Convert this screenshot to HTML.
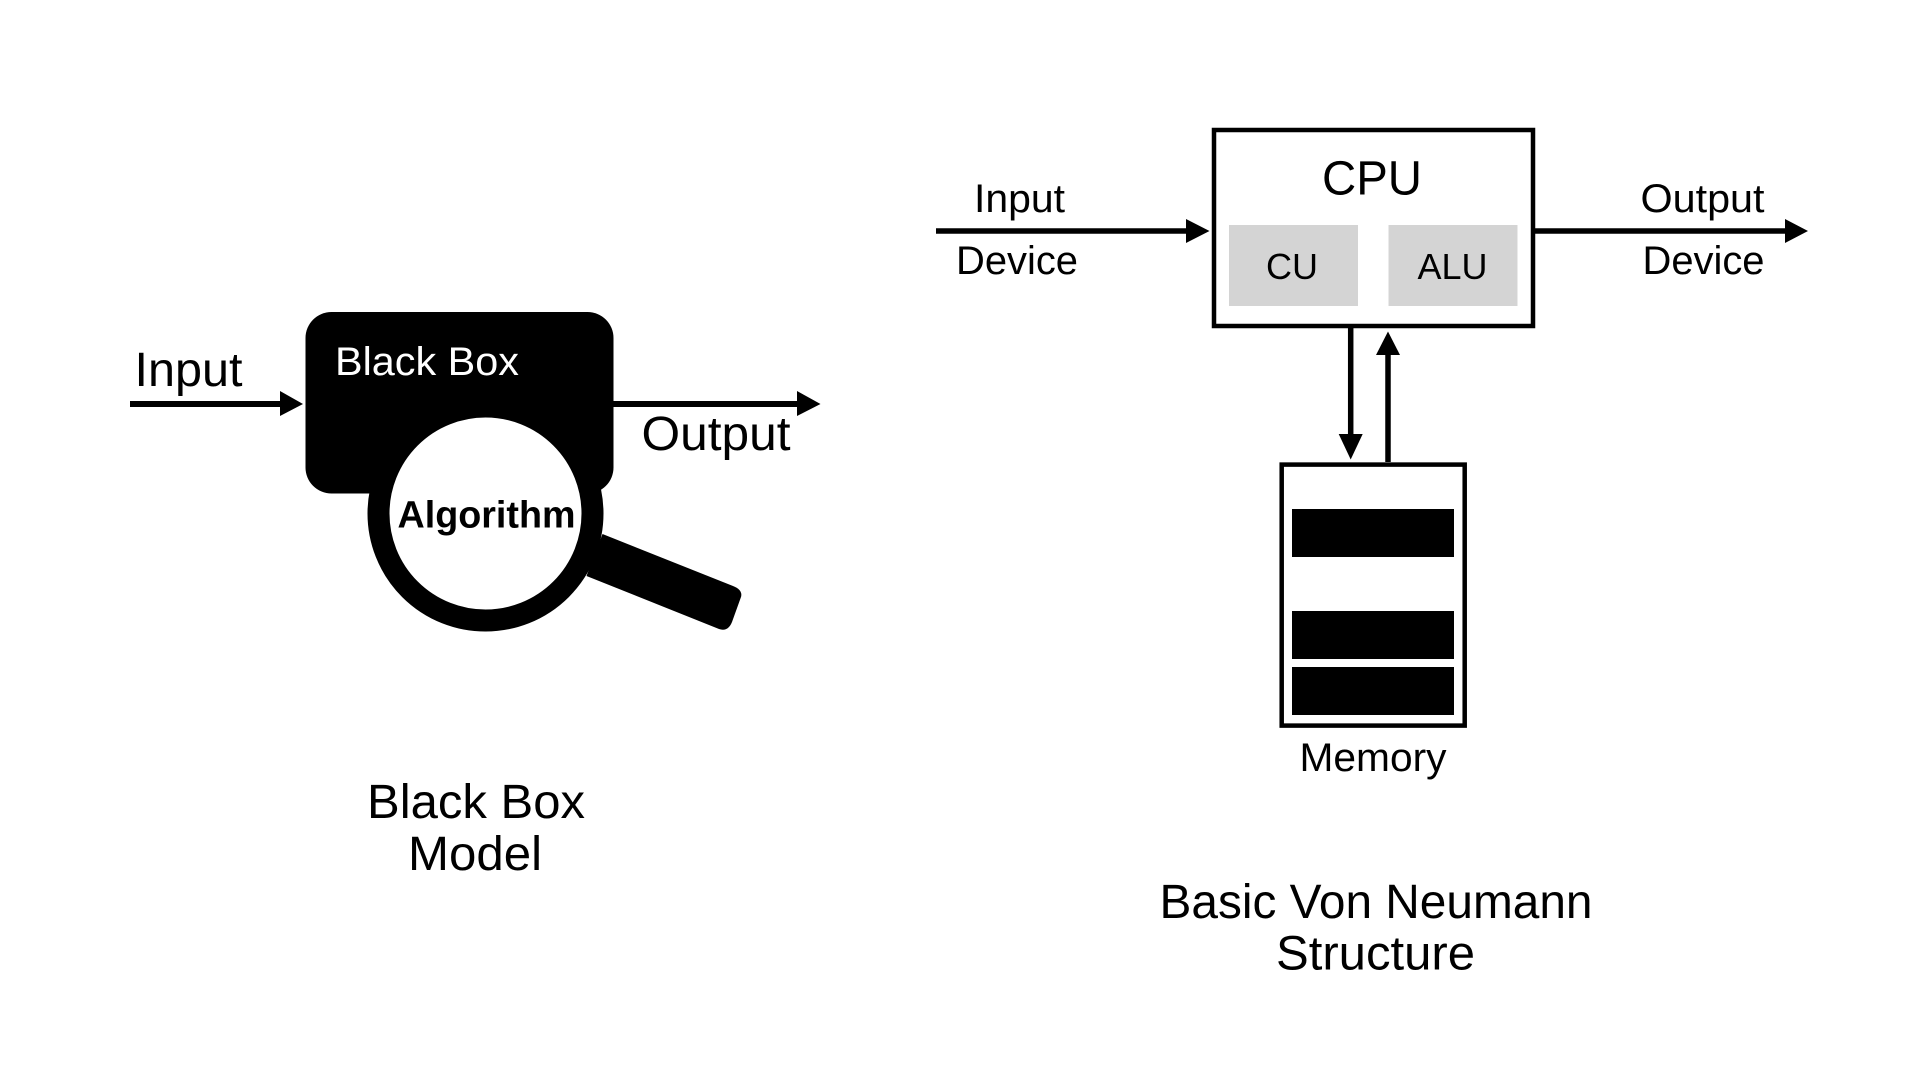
<!DOCTYPE html>
<html><head><meta charset="utf-8"><style>
html,body{margin:0;padding:0;background:#fff}
svg{display:block}
text{font-family:"Liberation Sans",sans-serif;fill:#000}
</style></head><body>
<svg width="1920" height="1080" viewBox="0 0 1920 1080" xmlns="http://www.w3.org/2000/svg">
<rect width="1920" height="1080" fill="#fff"/>
<!-- Black box -->
<rect x="305.5" y="312" width="308" height="181.5" rx="26" ry="26" fill="#000"/>
<path d="M602.5 534 L733 586 Q743 590 741 597 L732 622 Q728 632 719 629 L586.5 576 Z" fill="#000"/>
<circle cx="485.5" cy="513.5" r="107" fill="#fff" stroke="#000" stroke-width="22"/>
<text x="335" y="375" font-size="40" textLength="184" lengthAdjust="spacingAndGlyphs" style="fill:#fff">Black Box</text>
<text x="397.5" y="527.5" font-size="38" font-weight="bold" textLength="178" lengthAdjust="spacingAndGlyphs">Algorithm</text>
<text x="134.5" y="386" font-size="48" textLength="108" lengthAdjust="spacingAndGlyphs">Input</text>
<text x="641.5" y="450" font-size="48" textLength="149" lengthAdjust="spacingAndGlyphs">Output</text>
<path d="M130 404H283" stroke="#000" stroke-width="6"/>
<polygon points="280,391 303,404 280,416"/>
<path d="M613 404H799" stroke="#000" stroke-width="6"/>
<polygon points="797,391 820.5,404 797,416"/>
<text x="367" y="818" font-size="48" textLength="218" lengthAdjust="spacingAndGlyphs">Black Box</text>
<text x="408" y="870" font-size="48" textLength="134" lengthAdjust="spacingAndGlyphs">Model</text>
<!-- CPU -->
<rect x="1214" y="130" width="319" height="196" fill="#fff" stroke="#000" stroke-width="4.5"/>
<rect x="1229" y="225" width="129" height="81" fill="#d4d4d4"/>
<rect x="1388.5" y="225" width="129" height="81" fill="#d4d4d4"/>
<text x="1322" y="194.5" font-size="48" textLength="100" lengthAdjust="spacingAndGlyphs">CPU</text>
<text x="1266" y="279" font-size="36" textLength="52" lengthAdjust="spacingAndGlyphs">CU</text>
<text x="1417.5" y="279" font-size="36" textLength="70" lengthAdjust="spacingAndGlyphs">ALU</text>
<text x="974" y="212" font-size="40" textLength="91" lengthAdjust="spacingAndGlyphs">Input</text>
<text x="956" y="274" font-size="40" textLength="122" lengthAdjust="spacingAndGlyphs">Device</text>
<text x="1640.5" y="212" font-size="40" textLength="124" lengthAdjust="spacingAndGlyphs">Output</text>
<text x="1642.5" y="274" font-size="40" textLength="122" lengthAdjust="spacingAndGlyphs">Device</text>
<path d="M936 231H1188" stroke="#000" stroke-width="5.5"/>
<polygon points="1186,219 1209.5,231 1186,243"/>
<path d="M1532 231H1787" stroke="#000" stroke-width="5.5"/>
<polygon points="1785,219 1808,231 1785,243"/>
<path d="M1350.7 327V436" stroke="#000" stroke-width="5.5"/>
<polygon points="1338.7,434 1362.7,434 1350.7,459.5"/>
<path d="M1388 462V352" stroke="#000" stroke-width="5.5"/>
<polygon points="1376,355 1400,355 1388,331.5"/>
<!-- Memory -->
<rect x="1281.7" y="464.6" width="183" height="261" fill="#fff" stroke="#000" stroke-width="4.5"/>
<rect x="1292" y="509" width="162" height="48" fill="#000"/>
<rect x="1292" y="611" width="162" height="48" fill="#000"/>
<rect x="1292" y="667" width="162" height="48" fill="#000"/>
<text x="1299.5" y="771" font-size="40" textLength="147" lengthAdjust="spacingAndGlyphs">Memory</text>
<text x="1159.5" y="918" font-size="48" textLength="433" lengthAdjust="spacingAndGlyphs">Basic Von Neumann</text>
<text x="1276" y="969.5" font-size="48" textLength="199" lengthAdjust="spacingAndGlyphs">Structure</text>
</svg>
</body></html>
